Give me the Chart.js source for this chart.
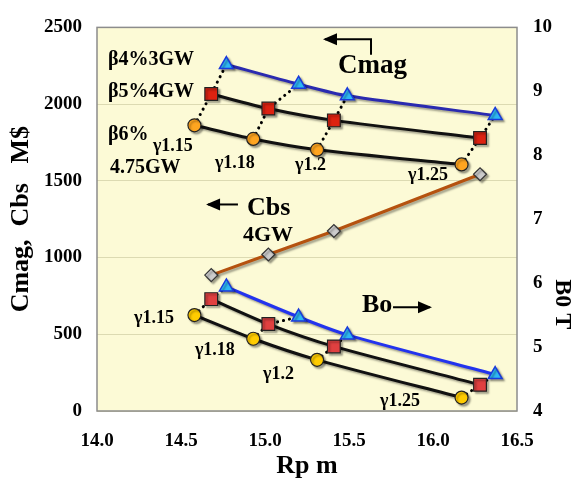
<!DOCTYPE html>
<html>
<head>
<meta charset="utf-8">
<script src="https://cdn.jsdelivr.net/npm/chart.js@4"></script>
<style>
  html, body { margin: 0; padding: 0; background: #fff; }
  #wrap { width: 574px; height: 486px; }
</style>
</head>
<body>
<div id="wrap"><canvas id="chart"></canvas></div>
<script>
// Rp (m) for each beta case
const rpB4 = [14.77, 15.20, 15.49, 16.37];
const rpB5 = [14.68, 15.02, 15.41, 16.28];
const rpB6 = [14.58, 14.93, 15.31, 16.17];

// Cmag (M$), left axis
const cmagB4 = [2258, 2130, 2054, 1926];
const cmagB5 = [2066, 1971, 1894, 1779];
const cmagB6 = [1862, 1773, 1703, 1607];

// Cbs 4GW (M$), left axis
const cbs4GW = [886, 1020, 1173, 1543];

// B0 (T), right axis
const boB4 = [5.94, 5.47, 5.19, 4.57];
const boB5 = [5.75, 5.36, 5.01, 4.41];
const boB6 = [5.50, 5.13, 4.80, 4.21];

const gammaLabels = ['γ1.15', 'γ1.18', 'γ1.2', 'γ1.25'];

// axis ticks
const xTicks = [14.0, 14.5, 15.0, 15.5, 16.0, 16.5];
const leftTicks = [0, 500, 1000, 1500, 2000, 2500];
const rightTicks = [4, 5, 6, 7, 8, 9, 10];

const SERIF = "'Liberation Serif', 'Times New Roman', serif";

function pts(xs, ys) {
    return xs.map((x, i) => ({x: x, y: ys[i]}));
}

// 텍스트 주석 (x: Rp, y: 왼쪽 축 값)
const notes = [
    {text: 'β4%3GW', x: 14.065, y: 2290, size: 20},
    {text: 'β5%4GW', x: 14.065, y: 2079, size: 20},
    {text: 'β6%', x: 14.065, y: 1798, size: 20},
    {text: gammaLabels[0], x: 14.333, y: 1728, size: 18},
    {text: '4.75GW', x: 14.077, y: 1588, size: 20},
    {text: gammaLabels[1], x: 14.702, y: 1614, size: 18},
    {text: gammaLabels[2], x: 15.179, y: 1601, size: 18},
    {text: gammaLabels[3], x: 15.851, y: 1537, size: 18},
    {text: gammaLabels[0], x: 14.220, y: 606, size: 18},
    {text: gammaLabels[1], x: 14.583, y: 395, size: 18},
    {text: gammaLabels[2], x: 14.988, y: 242, size: 18},
    {text: gammaLabels[3], x: 15.685, y: 64, size: 18},
    {text: 'Cmag', x: 15.435, y: 2250, size: 27},
    {text: 'Cbs', x: 14.893, y: 1320, size: 26},
    {text: '4GW', x: 14.869, y: 1142, size: 22},
    {text: 'Bo', x: 15.577, y: 689, size: 26}
];

// 화살표
const arrows = [
    [[15.631, 2321], [15.631, 2423], [15.357, 2423]],
    [[14.839, 1346], [14.661, 1346]],
    [[15.762, 676], [15.982, 676]]
];

const datasets = [
    {data: pts(rpB4, cmagB4), yAxisID: 'y', borderColor: '#2A2AB0', borderWidth: 3, tension: 0.25,
     pointStyle: 'triangle', pointRadius: 8, pointBackgroundColor: '#2EB8F5', pointBorderColor: '#1A3ADB', pointBorderWidth: 1.5, shadow: true},
    {data: pts(rpB5, cmagB5), yAxisID: 'y', borderColor: '#111', borderWidth: 3, tension: 0.25,
     pointStyle: 'rect', pointRadius: 9, pointBackgroundColor: '#DD2211', pointBorderColor: '#222', pointBorderWidth: 1.2, shadow: true},
    {data: pts(rpB6, cmagB6), yAxisID: 'y', borderColor: '#111', borderWidth: 3, tension: 0.25,
     pointStyle: 'circle', pointRadius: 6.5, pointBackgroundColor: '#FFA520', pointBorderColor: '#222', pointBorderWidth: 1.2, shadow: true},
    {data: pts(rpB5, cbs4GW), yAxisID: 'y', borderColor: '#B5520F', borderWidth: 3, tension: 0,
     pointStyle: 'rectRot', pointRadius: 6.5, pointBackgroundColor: '#CCCCCC', pointBorderColor: '#333', pointBorderWidth: 1.2, shadow: true},
    {data: pts(rpB4, boB4), yAxisID: 'y2', borderColor: '#2233EE', borderWidth: 3, tension: 0.25,
     pointStyle: 'triangle', pointRadius: 8, pointBackgroundColor: '#2EB8F5', pointBorderColor: '#1A3ADB', pointBorderWidth: 1.5, shadow: true},
    {data: pts(rpB5, boB5), yAxisID: 'y2', borderColor: '#111', borderWidth: 3, tension: 0.25,
     pointStyle: 'rect', pointRadius: 9, pointBackgroundColor: '#E04040', pointBorderColor: '#222', pointBorderWidth: 1.2, shadow: true},
    {data: pts(rpB6, boB6), yAxisID: 'y2', borderColor: '#111', borderWidth: 3, tension: 0.25,
     pointStyle: 'circle', pointRadius: 6.5, pointBackgroundColor: '#FFCC00', pointBorderColor: '#222', pointBorderWidth: 1.2, shadow: true}
];

// 같은 γ 끼리 점선 연결
gammaLabels.forEach((g, i) => {
    datasets.push({
        data: [{x: rpB6[i], y: cmagB6[i]}, {x: rpB5[i], y: cmagB5[i]}, {x: rpB4[i], y: cmagB4[i]}],
        yAxisID: 'y', borderColor: '#000', borderWidth: 3, borderDash: [0.1, 6], borderCapStyle: 'round',
        pointRadius: 0, tension: 0
    });
    datasets.push({
        data: [{x: rpB6[i], y: boB6[i]}, {x: rpB5[i], y: boB5[i]}, {x: rpB4[i], y: boB4[i]}],
        yAxisID: 'y2', borderColor: '#000', borderWidth: 3, borderDash: [0.1, 6], borderCapStyle: 'round',
        pointRadius: 0, tension: 0
    });
});

const plotBg = {
    id: 'plotBg',
    beforeDraw(chart) {
        const {ctx, chartArea: a} = chart;
        ctx.save();
        ctx.fillStyle = '#FCFAD6';
        ctx.fillRect(a.left, a.top, a.right - a.left, a.bottom - a.top);
        ctx.restore();
    },
    beforeDatasetsDraw(chart) {
        const {ctx, chartArea: a} = chart;
        ctx.save();
        ctx.strokeStyle = '#8C8C8C';
        ctx.lineWidth = 1.5;
        ctx.strokeRect(a.left, a.top, a.right - a.left, a.bottom - a.top);
        ctx.restore();
    },
    beforeDatasetDraw(chart, args) {
        const ds = chart.data.datasets[args.index];
        chart.ctx.save();
        if (ds.shadow) {
            chart.ctx.shadowColor = 'rgba(0,0,0,0.35)';
            chart.ctx.shadowOffsetX = 2;
            chart.ctx.shadowOffsetY = 2;
            chart.ctx.shadowBlur = 2;
        }
    },
    afterDatasetDraw(chart) {
        chart.ctx.restore();
    },
    afterDraw(chart) {
        const {ctx, scales} = chart;
        const sx = scales.x, sy = scales.y;
        ctx.save();
        ctx.fillStyle = '#000';
        ctx.textBaseline = 'middle';
        ctx.textAlign = 'left';
        notes.forEach(n => {
            ctx.font = 'bold ' + n.size + 'px ' + SERIF;
            ctx.fillText(n.text, sx.getPixelForValue(n.x), sy.getPixelForValue(n.y));
        });
        // arrows
        ctx.strokeStyle = '#000';
        ctx.lineWidth = 2;
        arrows.forEach(a => {
            const p = a.map(q => [sx.getPixelForValue(q[0]), sy.getPixelForValue(q[1])]);
            ctx.beginPath();
            ctx.moveTo(p[0][0], p[0][1]);
            for (let i = 1; i < p.length; i++) ctx.lineTo(p[i][0], p[i][1]);
            ctx.stroke();
            const e = p[p.length - 1], s = p[p.length - 2];
            const ang = Math.atan2(e[1] - s[1], e[0] - s[0]);
            ctx.beginPath();
            ctx.moveTo(e[0] + Math.cos(ang) * 2, e[1] + Math.sin(ang) * 2);
            ctx.lineTo(e[0] - Math.cos(ang) * 12 - Math.sin(ang) * 6, e[1] - Math.sin(ang) * 12 + Math.cos(ang) * 6);
            ctx.lineTo(e[0] - Math.cos(ang) * 12 + Math.sin(ang) * 6, e[1] - Math.sin(ang) * 12 - Math.cos(ang) * 6);
            ctx.closePath();
            ctx.fill();
        });
        // right axis title
        const ry = scales.y2;
        ctx.translate(562, (ry.top + ry.bottom) / 2 + 85);
        ctx.rotate(Math.PI / 2);
        ctx.textAlign = 'center';
        ctx.font = 'bold 24px ' + SERIF;
        ctx.fillText('B0 T', 0, 0);
        ctx.restore();
    }
};

new Chart(document.getElementById('chart'), {
    type: 'scatter',
    data: {datasets: datasets.map(d => Object.assign({showLine: true, fill: false}, d))},
    options: {
        responsive: true,
        maintainAspectRatio: false,
        animation: false,
        layout: {padding: {top: 19, left: 0, right: 0, bottom: 0}},
        plugins: {legend: {display: false}, tooltip: {enabled: false}},
        scales: {
            x: {
                type: 'linear', min: 14, max: 16.5,
                afterBuildTicks: s => { s.ticks = xTicks.map(v => ({value: v})); },
                afterFit: s => { s.height = 75; },
                grid: {display: false},
                border: {display: false},
                ticks: {color: '#000', padding: 11, font: {family: SERIF, size: 19, weight: 'bold'},
                        callback: v => Number(v).toFixed(1)},
                title: {display: true, text: 'Rp m', color: '#000', padding: {top: 0, bottom: 4},
                        font: {family: SERIF, size: 26, weight: 'bold'}}
            },
            y: {
                position: 'left', min: 0, max: 2500,
                afterBuildTicks: s => { s.ticks = leftTicks.map(v => ({value: v})); },
                afterFit: s => { s.width = 97; },
                grid: {color: '#DCDAB2', lineWidth: 1, drawTicks: false},
                border: {display: false},
                ticks: {color: '#000', padding: 15, font: {family: SERIF, size: 19, weight: 'bold'},
                        callback: v => String(v)},
                title: {display: true, text: 'Cmag,  Cbs   M$', color: '#000', padding: {top: 6, bottom: 0},
                        font: {family: SERIF, size: 26, weight: 'bold'}}
            },
            y2: {
                position: 'right', min: 4, max: 10,
                afterBuildTicks: s => { s.ticks = rightTicks.map(v => ({value: v})); },
                afterFit: s => { s.width = 57; },
                grid: {drawOnChartArea: false, drawTicks: false},
                border: {display: false},
                ticks: {color: '#000', padding: 16, font: {family: SERIF, size: 19, weight: 'bold'},
                        callback: v => String(v)}
            }
        }
    },
    plugins: [plotBg]
});
</script>
</body>
</html>
